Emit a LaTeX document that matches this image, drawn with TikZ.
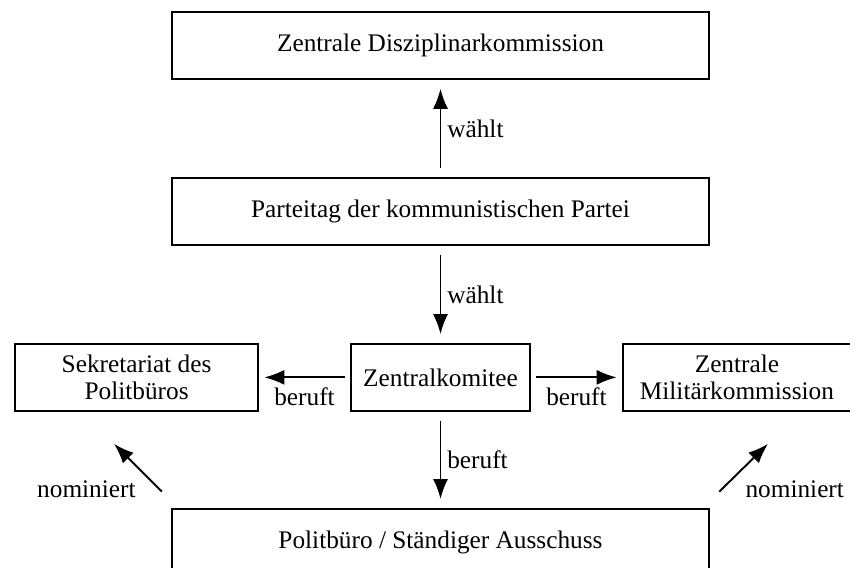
\documentclass[tikz,border=0pt]{standalone}
\usepackage{fontspec}
\setmainfont{Liberation Serif}
\usetikzlibrary{positioning,arrows.meta}

\begin{document}
\begin{tikzpicture} [
        box/.style={draw, rectangle, line width=1.1pt, align=center, minimum height=1.34cm},
        wide/.style={box, minimum width=10.74cm},
        arr/.style={-{Latex[length=4mm,width=3mm]}, line width=1.1pt, shorten >=5pt, shorten <=5pt},
        font=\fontsize{14.4}{15.5}\selectfont,
        node distance=1.94cm and 1.82cm ]
    \useasboundingbox (0,0) rectangle (17,-11.34);

    \node[wide] (zdk) at (8.81,-0.91) {Zentrale Disziplinarkommission};
    \node[wide, below=of zdk] (pt) {Parteitag der kommunistischen Partei};
    \node[box, below=of pt, minimum width=3.58cm] (zk) {Zentralkomitee};
    \node[box, left=of zk, minimum width=4.86cm] (sek) {Sekretariat des\\Politbüros};
    \node[box, right=of zk, minimum width=4.56cm] (zmk) {Zentrale\\Militärkommission};
    \node[wide, below=1.92cm of zk] (pb) {Politbüro / Ständiger Ausschuss};

    \coordinate (nomL) at ([shift={(-1.14,1.28)}]pb.north west);
    \coordinate (nomR) at ([shift={(1.16,1.28)}]pb.north east);

    \draw[arr] (pt) -- node[right] {wählt} (zdk);
    \draw[arr] (pt) -- node[right] {wählt} (zk);
    \draw[arr, shorten >=3pt, shorten <=3pt] (zk) -- node[below, yshift=-2pt] {beruft} (sek);
    \draw[arr, shorten >=3pt, shorten <=3pt] (zk) -- node[below, yshift=-2pt] {beruft} (zmk);
    \draw[arr] (zk) -- node[right] {beruft} (pb);
    \draw[arr, shorten >=0pt] ([shift={(-0.06,0.2)}]pb.north west) -- node[pos=0.15, left=0.35cm] {nominiert} (nomL);
    \draw[arr, shorten >=0pt] ([shift={(0.06,0.2)}]pb.north east) -- node[pos=0.15, right=0.35cm] {nominiert} (nomR);
\end{tikzpicture}
\end{document}
